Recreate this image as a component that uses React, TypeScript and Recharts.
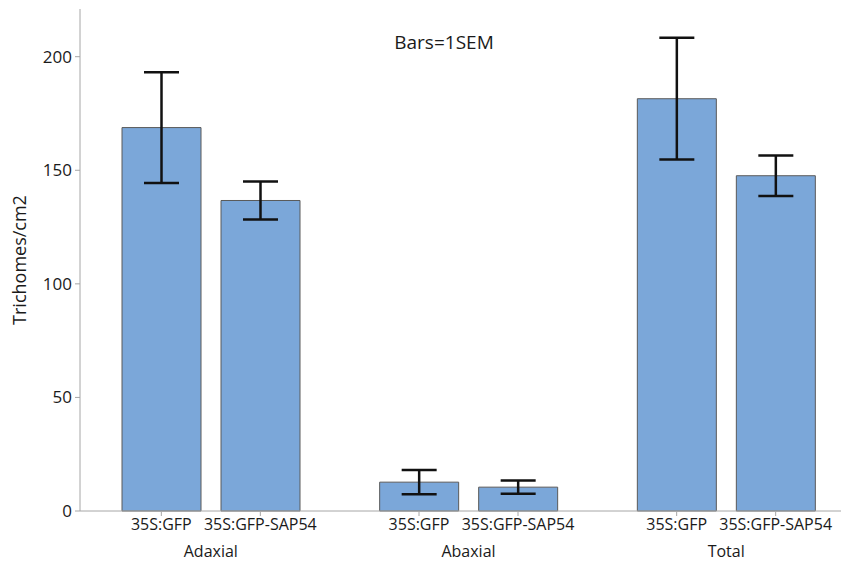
import React from 'react';
import { BarChart, Bar, ErrorBar, XAxis, YAxis } from 'recharts';

// groups along the x axis and the two lines in each group
const GROUPS = ['Adaxial', 'Abaxial', 'Total'];
const LINES = ['35S:GFP', '35S:GFP-SAP54'];

// Trichomes/cm2, mean and 1 SEM
const GFP_MEAN = [168.8, 12.7, 181.5];
const GFP_SEM = [24.4, 5.3, 26.8];
const SAP_MEAN = [136.7, 10.5, 147.6];
const SAP_SEM = [8.4, 2.9, 8.9];

const Y_TICKS = [0, 50, 100, 150, 200];

const FONT = '"Open Sans", "Noto Sans", sans-serif';
const AXIS_GRAY = '#a6a6a6';
const BAR_SIZE = 79;
const BAR_GAP = 20;

const data = GROUPS.map((g, i) => ({
  group: g,
  gfp: GFP_MEAN[i],
  gfpErr: GFP_SEM[i],
  sap: SAP_MEAN[i],
  sapErr: SAP_SEM[i],
}));

// one tick per bar, plus the group name underneath
const GroupTick = ({ x, y, payload }: any) => {
  const half = (BAR_SIZE + BAR_GAP) / 2;
  return (
    <g>
      {LINES.map((name, i) => {
        const cx = x + (i === 0 ? -half : half);
        return (
          <g key={name}>
            <line x1={cx} x2={cx} y1={y} y2={y + 5} stroke={AXIS_GRAY} />
            <text x={cx} y={y + 19} textAnchor="middle" fontSize={16} fill="#1a1a1a" fontFamily={FONT}>
              {name}
            </text>
          </g>
        );
      })}
      <text x={x} y={y + 46} textAnchor="middle" fontSize={16} fill="#1a1a1a" fontFamily={FONT}>
        {payload.value}
      </text>
    </g>
  );
};

export default function App() {
  return (
    <div style={{ position: 'absolute', left: 0, top: 0, width: 843, height: 562, background: '#fff' }}>
      <BarChart
        width={843}
        height={562}
        data={data}
        margin={{ top: 9, right: 2, bottom: 0, left: 0 }}
        barSize={BAR_SIZE}
        barGap={BAR_GAP}
      >
        <XAxis
          dataKey="group"
          height={51}
          padding={{ left: 2, right: -14 }}
          axisLine={{ stroke: AXIS_GRAY }}
          tickLine={false}
          tickSize={0}
          tickMargin={0}
          tick={<GroupTick />}
          interval={0}
        />
        <XAxis xAxisId="top" orientation="top" dataKey="group" height={0} tick={false} tickLine={false} axisLine={{ stroke: AXIS_GRAY }} />
        <YAxis
          width={80}
          domain={[0, 221]}
          ticks={Y_TICKS}
          axisLine={{ stroke: AXIS_GRAY }}
          tickLine={{ stroke: AXIS_GRAY }}
          tickSize={5}
          tickMargin={3}
          tick={{ fontSize: 17, fill: '#1a1a1a', fontFamily: FONT }}
          label={{
            value: 'Trichomes/cm2',
            angle: -90,
            position: 'insideLeft',
            offset: 20,
            style: { textAnchor: 'middle', fontSize: 18, fill: '#1a1a1a', fontFamily: FONT },
          }}
        />
        <YAxis yAxisId="right" orientation="right" width={0} domain={[0, 221]} tick={false} tickLine={false} axisLine={{ stroke: AXIS_GRAY }} />
        <Bar dataKey="gfp" fill="#7ba7d9" stroke="#5a5a5a" strokeWidth={1} isAnimationActive={false}>
          <ErrorBar dataKey="gfpErr" direction="y" width={17.5} stroke="#111" strokeWidth={2.5} />
        </Bar>
        <Bar dataKey="sap" fill="#7ba7d9" stroke="#5a5a5a" strokeWidth={1} isAnimationActive={false}>
          <ErrorBar dataKey="sapErr" direction="y" width={17.5} stroke="#111" strokeWidth={2.5} />
        </Bar>
      </BarChart>
      <div
        style={{
          position: 'absolute',
          left: 444,
          top: 42,
          transform: 'translate(-50%, -50%)',
          fontFamily: FONT,
          fontSize: 19,
          color: '#1a1a1a',
          whiteSpace: 'nowrap',
        }}
      >
        Bars=1SEM
      </div>
    </div>
  );
}
